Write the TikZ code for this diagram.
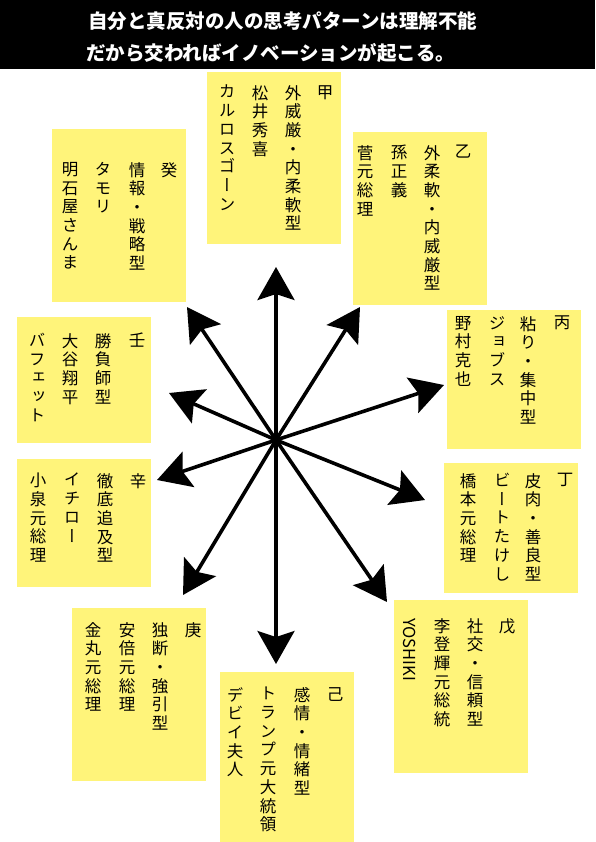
\documentclass[tikz,border=0pt]{standalone}
\usepackage{fontspec}
\usetikzlibrary{arrows.meta}
\newfontfamily\jp[RawFeature=+vert]{Noto Sans CJK JP}
\newfontfamily\jph{Noto Sans CJK JP}
\definecolor{noteyellow}{RGB}{255,244,122}
\tikzset{
  note/.style={fill=noteyellow, draw=none, inner sep=0pt},
  col/.style={anchor=north, inner sep=0pt, align=center, font=\jp\fontsize{16.5}{18.7}\selectfont},
  head/.style={anchor=west, inner sep=0pt, text=white, font=\jph\bfseries\fontsize{19.5}{20}\selectfont},
  arr/.style={line width=3.6pt, -{Stealth[length=33pt,width=37pt,inset=6pt]}}
}
\begin{document}
\begin{tikzpicture}[x=1pt,y=-1pt]
\useasboundingbox (0,0) rectangle (595,842);
% header
\fill[black] (0,0) rectangle (595,69);
\node[head] (h1) at (88,21) {自分と真反対の人の思考パターンは理解不能};
\node[head] (h2) at (86,53) {だから交わればイノベーションが起こる。};
% boxes
\fill[noteyellow] (207,72) rectangle (341,244);
\fill[noteyellow] (353,132) rectangle (487,305);
\fill[noteyellow] (52,129) rectangle (186,302);
\fill[noteyellow] (447,310) rectangle (581,449);
\fill[noteyellow] (444,463) rectangle (578,593);
\fill[noteyellow] (17,317) rectangle (151,443);
\fill[noteyellow] (17,459) rectangle (151,587);
\fill[noteyellow] (72,608) rectangle (206,781);
\fill[noteyellow] (220,672) rectangle (354,842);
\fill[noteyellow] (394,600) rectangle (528,773);
% 甲
\node[col] (a0) at (325,85) {甲};
\node[col] (a1) at (293,85) {外\\威\\厳\\・\\内\\柔\\軟\\型};
\node[col] (a2) at (260,85) {松\\井\\秀\\喜};
\node[col] (a3) at (227,85) {カ\\ル\\ロ\\ス\\ゴ\\ー\\ン};
% 乙
\node[col] (b0) at (463,145) {乙};
\node[col] (b1) at (432,145) {外\\柔\\軟\\・\\内\\威\\厳\\型};
\node[col] (b2) at (399,145) {孫\\正\\義};
\node[col] (b3) at (365,145) {菅\\元\\総\\理};
% 癸
\node[col] (c0) at (169,162) {癸};
\node[col] (c1) at (137,162) {情\\報\\・\\戦\\略\\型};
\node[col] (c2) at (103,162) {タ\\モ\\リ};
\node[col] (c3) at (70,162) {明\\石\\屋\\さ\\ん\\ま};
% 丙
\node[col] (d0) at (562,316) {丙};
\node[col] (d1) at (528,316) {粘\\り\\・\\集\\中\\型};
\node[col] (d2) at (497,316) {ジ\\ョ\\ブ\\ス};
\node[col] (d3) at (463,316) {野\\村\\克\\也};
% 丁
\node[col] (e0) at (565,473) {丁};
\node[col] (e1) at (533,473) {皮\\肉\\・\\善\\良\\型};
\node[col] (e2) at (502,473) {ビ\\ー\\ト\\た\\け\\し};
\node[col] (e3) at (468,473) {橋\\本\\元\\総\\理};
% 壬
\node[col] (f0) at (137,333) {壬};
\node[col] (f1) at (103,333) {勝\\負\\師\\型};
\node[col] (f2) at (70,333) {大\\谷\\翔\\平};
\node[col] (f3) at (37,333) {バ\\フ\\ェ\\ッ\\ト};
% 辛
\node[col] (g0) at (138,473) {辛};
\node[col] (g1) at (105,473) {徹\\底\\追\\及\\型};
\node[col] (g2) at (72,473) {イ\\チ\\ロ\\ー};
\node[col] (g3) at (38,473) {小\\泉\\元\\総\\理};
% 庚
\node[col] (k0) at (193,622) {庚};
\node[col] (k1) at (160,622) {独\\断\\・\\強\\引\\型};
\node[col] (k2) at (127,622) {安\\倍\\元\\総\\理};
\node[col] (k3) at (93,622) {金\\丸\\元\\総\\理};
% 己
\node[col] (m0) at (335,687) {己};
\node[col] (m1) at (302,687) {感\\情\\・\\情\\緒\\型};
\node[col] (m2) at (268,687) {ト\\ラ\\ン\\プ\\元\\大\\統\\領};
\node[col] (m3) at (235,687) {デ\\ビ\\イ\\夫\\人};
% 戊
\node[col] (n0) at (507,618) {戊};
\node[col] (n1) at (475,618) {社\\交\\・\\信\\頼\\型};
\node[col] (n2) at (442,618) {李\\登\\輝\\元\\総\\統};
\node[anchor=west, inner sep=0pt, rotate=-90, font=\jph\fontsize{16.5}{18.7}\selectfont] (n3) at (410,618) {YOSHIKI};
% arrows
\coordinate (c) at (276,440);
\coordinate (tN) at (276,267);
\coordinate (tS) at (276,664);
\coordinate (tNNW) at (187,307);
\coordinate (tNNE) at (360,307);
\coordinate (tENE) at (444,385);
\coordinate (tWNW) at (169,393);
\coordinate (tWSW) at (157,480);
\coordinate (tESE) at (425,500);
\coordinate (tSSW) at (183,595);
\coordinate (tSSE) at (387,602);
\foreach \t in {tN,tS,tNNW,tNNE,tENE,tWNW,tWSW,tESE,tSSW,tSSE}
  \draw[arr] (c) -- (\t);
\end{tikzpicture}
\end{document}
